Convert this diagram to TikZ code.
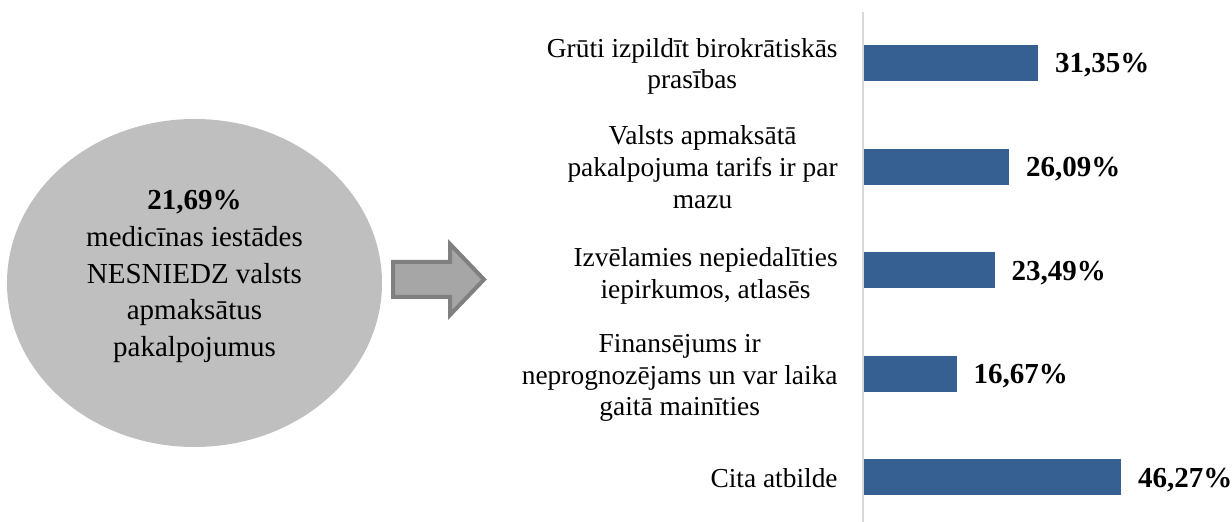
\documentclass[tikz,border=0pt]{standalone}
\usepackage{fontspec}
\setmainfont{Liberation Serif}
\usetikzlibrary{shapes.geometric}
\definecolor{circgray}{HTML}{BFBFBF}
\definecolor{arrowfill}{HTML}{A6A6A6}
\definecolor{arrowedge}{HTML}{808080}
\definecolor{barblue}{HTML}{376092}
\definecolor{axisgray}{HTML}{D9D9D9}
\begin{document}
\begin{tikzpicture}[x=0.5pt,y=-0.5pt,
  bar/.style={fill=barblue, draw=none, inner sep=0pt, minimum height=18pt, anchor=west},
  val/.style={anchor=base west, inner sep=0pt, font=\fontsize{14.5}{17}\selectfont\bfseries},
  cat/.style={anchor=east, inner sep=0pt, align=center, font=\fontsize{13.7}{15.9}\selectfont}]
\useasboundingbox (0,0) rectangle (1232,522);
% ellipse
\node[ellipse, fill=circgray, minimum width=187.5pt, minimum height=164pt, inner sep=0pt] (circ) at (194.5,283) {};
\node[align=center, inner sep=0pt, font=\fontsize{14.5}{18.3}\selectfont] (circtxt) at (194.5,276.5)
  {\textbf{21,69\%}\\medicīnas iestādes\\NESNIEDZ valsts\\apmaksātus\\pakalpojumus};
% arrow
\draw[line width=2pt, draw=arrowedge, fill=arrowfill, line join=miter]
  (393,262) -- (450,262) -- (450,244) -- (484,279.5) -- (450,315) -- (450,297) -- (393,297) -- cycle;
% axis
\coordinate (axtop) at (862.5,12);
\coordinate (axbot) at (862.5,522);
\draw[axisgray, line width=1pt] (axtop) -- (axbot);
% bars
\node[bar, minimum width=87pt] (b1) at (864,63) {};
\node[bar, minimum width=72.4pt] (b2) at (864,167) {};
\node[bar, minimum width=65.2pt] (b3) at (864,270.5) {};
\node[bar, minimum width=46.25pt] (b4) at (864,374) {};
\node[bar, minimum width=128.4pt] (b5) at (864,477.5) {};
% values
\node[val] (v1) at ([xshift=8pt,yshift=-5pt]b1.east) {31,35\%};
\node[val] (v2) at ([xshift=8pt,yshift=-5pt]b2.east) {26,09\%};
\node[val] (v3) at ([xshift=8pt,yshift=-5pt]b3.east) {23,49\%};
\node[val] (v4) at ([xshift=8pt,yshift=-5pt]b4.east) {16,67\%};
\node[val] (v5) at ([xshift=8pt,yshift=-5pt]b5.east) {46,27\%};
% categories
\node[cat] (c1) at (838,66.5) {Grūti izpildīt birokrātiskās\\prasības};
\node[cat] (c2) at (838,167) {Valsts apmaksātā\\pakalpojuma tarifs ir par\\mazu};
\node[cat] (c3) at (838,276) {Izvēlamies nepiedalīties\\iepirkumos, atlasēs};
\node[cat] (c4) at (838,378) {Finansējums ir\\neprognozējams un var laika\\gaitā mainīties};
\node[cat] (c5) at (838,478) {Cita atbilde};
\end{tikzpicture}
\end{document}
